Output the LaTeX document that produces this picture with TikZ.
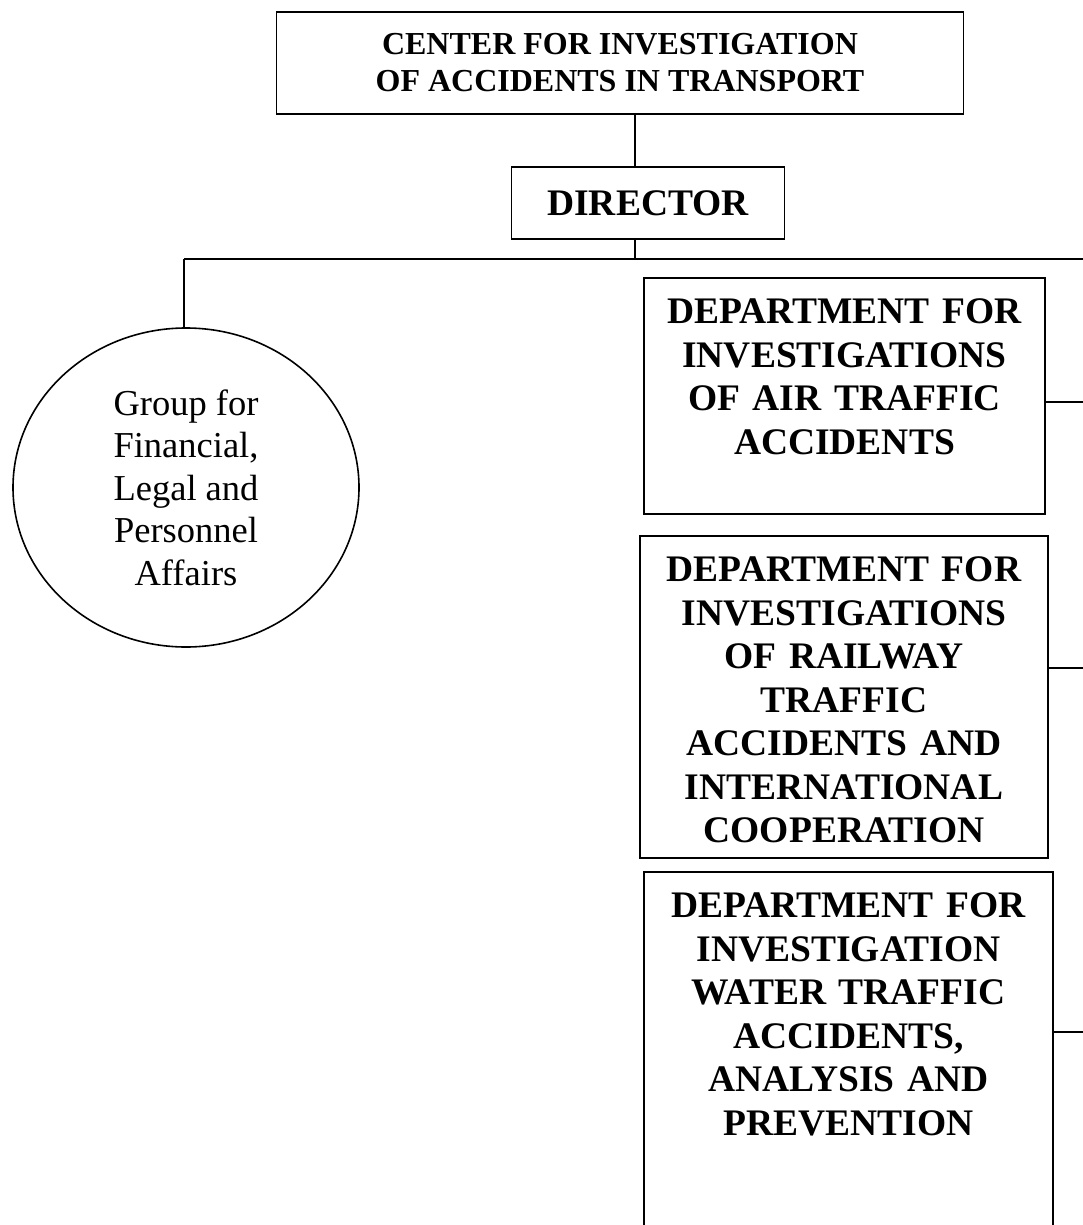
\documentclass[tikz,border=0pt]{standalone}
\usepackage{fontspec}
\setmainfont{Liberation Serif}
\usetikzlibrary{positioning,shapes.geometric}

\begin{document}
\begin{tikzpicture}[x=1pt,y=-1pt,line width=1.6pt,
    box/.style={draw,rectangle,inner sep=0pt},
    depttext/.style={align=center,text width=400pt,inner sep=0pt,
      font=\fontsize{37.5}{43.5}\selectfont\bfseries}]
   \useasboundingbox (0,0) rectangle (1083,1225);
   \clip (0,0) rectangle (1083,1225);
   \node[box,minimum width=687pt,minimum height=102pt,align=center,
         font=\fontsize{32}{37}\selectfont\bfseries] (cit) at (620,63)
         {CENTER FOR INVESTIGATION\\OF ACCIDENTS IN TRANSPORT};
   \node[box,minimum width=273pt,minimum height=72pt,
         font=\fontsize{37.5}{43.5}\selectfont\bfseries] (dir) at (648,203) {DIRECTOR};
   \node[draw,ellipse,minimum width=346pt,minimum height=319pt,inner sep=0pt,
         align=center,font=\fontsize{36.5}{42.5}\selectfont] (grp) at (186,487.5)
         {Group for\\Financial,\\Legal and\\Personnel\\Affairs};
   \node[box,minimum width=401pt,minimum height=236pt] (d_air)   at (844.5,396) {};
   \node[box,minimum width=408pt,minimum height=322pt] (d_rail)  at (844,697) {};
   \node[box,minimum width=409pt,minimum height=368pt] (d_water) at (848.5,1056) {};
   \node[depttext,below=21pt of d_air.north] (t_air)
         {DEPARTMENT FOR\\INVESTIGATIONS\\OF AIR TRAFFIC\\ACCIDENTS};
   \node[depttext,below=21pt of d_rail.north] (t_rail)
         {DEPARTMENT FOR\\INVESTIGATIONS\\OF RAILWAY\\TRAFFIC\\ACCIDENTS AND\\INTERNATIONAL\\COOPERATION};
   \node[depttext,below=21pt of d_water.north] (t_water)
         {DEPARTMENT FOR\\INVESTIGATION\\WATER TRAFFIC\\ACCIDENTS,\\ANALYSIS AND\\PREVENTION};
   % bus lines
   \coordinate (bus)  at (635,259);
   \coordinate (busl) at (184,259);
   \coordinate (busr) at (1083,259);
   \coordinate (r_air)   at (1083,402);
   \coordinate (r_rail)  at (1083,668);
   \coordinate (r_water) at (1083,1032);
   \draw (cit.south -| bus) -- (dir.north -| bus);
   \draw (dir.south -| bus) -- (bus);
   \draw (busl) -- (busr);
   \draw (busl) -- (grp.north -| busl);
   \draw (d_air.east |- r_air) -- (r_air);
   \draw (d_rail.east |- r_rail) -- (r_rail);
   \draw (d_water.east |- r_water) -- (r_water);
\end{tikzpicture}
\end{document}
